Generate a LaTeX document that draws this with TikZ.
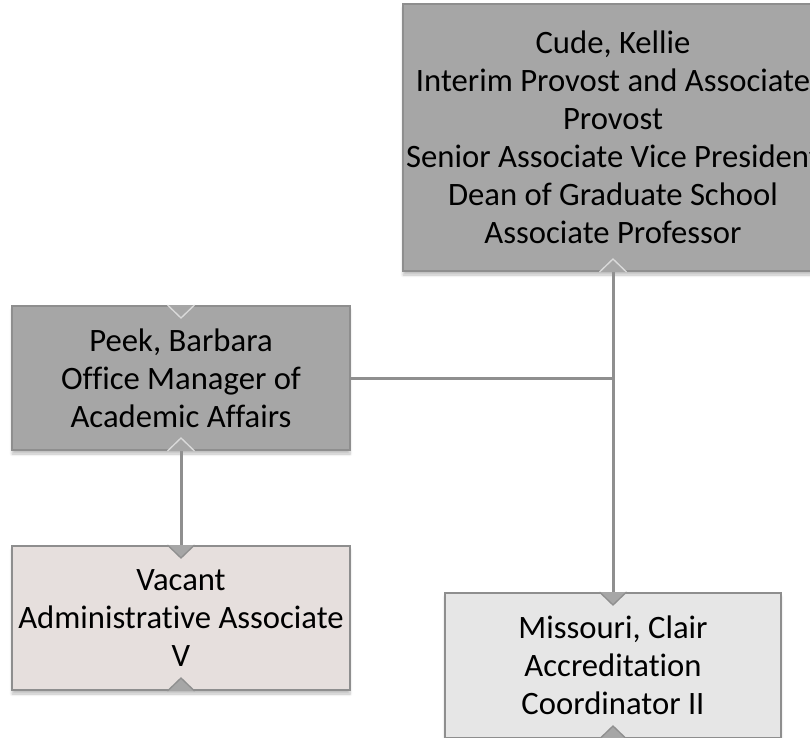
\documentclass[tikz,border=0pt]{standalone}
\usepackage{fontspec}
\setmainfont[Ligatures=NoCommon]{Carlito}
\usetikzlibrary{shadows.blur}

\definecolor{boxdark}{RGB}{166,166,166}
\definecolor{boxline}{RGB}{142,142,142}
\definecolor{vacantfill}{RGB}{230,223,221}
\definecolor{boxlight}{RGB}{230,230,230}
\definecolor{linkgray}{RGB}{143,143,143}
\definecolor{notchedge}{RGB}{218,218,218}

\begin{document}
\begin{tikzpicture}[x=0.75pt,y=0.75pt,yscale=-1,xscale=1,
  orgbox/.style={draw=boxline, line width=1.5pt, align=center, inner sep=0pt,
    font=\fontsize{24.5}{28.5}\selectfont,
    blur shadow={shadow xshift=0pt, shadow yshift=-3pt, shadow opacity=25, shadow blur steps=6}},
  link/.style={draw=linkgray, line width=2.25pt},
  notch dark/.style={fill=boxdark, draw=notchedge, line width=1pt},
  notch light/.style={fill=boxdark, draw=linkgray, line width=1pt}]
\useasboundingbox (0,0) rectangle (810,738);
\clip (0,0) rectangle (810,738);

% Boxes
\node[orgbox, fill=boxdark, minimum width=315pt, minimum height=200.25pt] (cude) at (613,137.5)
  {Cude, Kellie\\Interim Provost and Associate\\Provost\\Senior Associate Vice President\\Dean of Graduate School\\Associate Professor};
\node[orgbox, fill=boxdark, minimum width=253.5pt, minimum height=108pt] (peek) at (181,378)
  {Peek, Barbara\\Office Manager of\\Academic Affairs};
\node[orgbox, fill=vacantfill, minimum width=253.5pt, minimum height=108pt] (vacant) at (181,618)
  {Vacant\\Administrative Associate\\V};
\node[orgbox, fill=boxlight, minimum width=252pt, minimum height=108.75pt] (missouri) at (613,665.5)
  {Missouri, Clair\\Accreditation\\Coordinator II};

% Links
\draw[link] (cude.south) -- (missouri.north);
\draw[link] (peek.east) -- (peek.east -| cude.south);
\draw[link] (peek.south) -- (vacant.north);

% Notches
\filldraw[notch dark] (cude.south) ++(-13.5,0) -- ++(13.5,-13) -- ++(13.5,13);
\filldraw[notch dark] (peek.north) ++(-13.5,0) -- ++(13.5,13) -- ++(13.5,-13);
\filldraw[notch dark] (peek.south) ++(-13.5,0) -- ++(13.5,-13) -- ++(13.5,13);
\filldraw[notch light] (vacant.north) ++(-13.5,0) -- ++(13.5,13) -- ++(13.5,-13);
\filldraw[notch light] (vacant.south) ++(-13.5,0) -- ++(13.5,-13) -- ++(13.5,13);
\filldraw[notch light] (missouri.north) ++(-13.5,0) -- ++(13.5,13) -- ++(13.5,-13);
\filldraw[notch light] (missouri.south) ++(-13.5,0) -- ++(13.5,-13) -- ++(13.5,13);

\end{tikzpicture}
\end{document}
